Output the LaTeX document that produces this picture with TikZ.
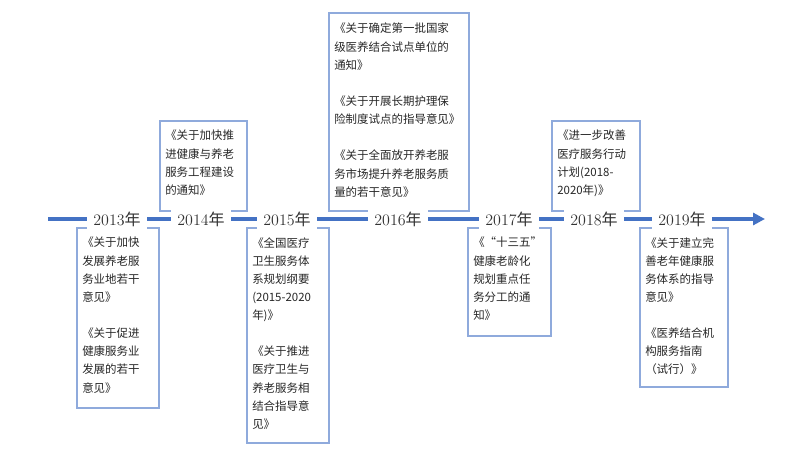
\documentclass[tikz,border=0pt]{standalone}
\usepackage{fontspec}
\newfontfamily\cjk{Noto Sans CJK SC}
\usetikzlibrary{arrows.meta}
\definecolor{lineblue}{HTML}{4472C4}
\definecolor{boxblue}{HTML}{8FAADC}
\tikzset{
  doc/.style={anchor=north west,align=left,inner sep=0pt,font=\cjk\fontsize{8.6}{13.6}\selectfont,text=black!85},
  docbox/.style={draw=boxblue,line width=0.9pt},
  year/.style={fill=white,inner xsep=4.5pt,inner ysep=2pt,font=\fontsize{12}{14}\selectfont,text=black!80}
}
\begin{document}
\begin{tikzpicture}[x=0.75pt,y=-0.75pt]
  \useasboundingbox (0,0) rectangle (795,452);
  % boxes
  \draw[docbox] (77,228) rectangle (159,408);
  \draw[docbox] (160,121) rectangle (247,211);
  \draw[docbox] (247,228) rectangle (329,443);
  \draw[docbox] (329,13) rectangle (469,211);
  \draw[docbox] (468,228) rectangle (551,336);
  \draw[docbox] (552,121) rectangle (640,211);
  \draw[docbox] (640,228) rectangle (728,387);
  % timeline
  \coordinate (start) at (48,219);
  \coordinate (end) at (765,219);
  \draw[lineblue,line width=3pt,-{Triangle[length=9pt,width=9pt]}] (start) -- (end);
  \node[year] (y13) at (117,219) {2013{\cjk 年}};
  \node[year] (y14) at (201,219) {2014{\cjk 年}};
  \node[year] (y15) at (287,219) {2015{\cjk 年}};
  \node[year] (y16) at (398,219) {2016{\cjk 年}};
  \node[year] (y17) at (509,219) {2017{\cjk 年}};
  \node[year] (y18) at (594,219) {2018{\cjk 年}};
  \node[year] (y19) at (682,219) {2019{\cjk 年}};
  % texts
  \node[doc] (d13) at (82,237) {《关于加快\\发展养老服\\务业地若干\\意见》\\[13.6pt]《关于促进\\健康服务业\\发展的若干\\意见》};
  \node[doc] (d14) at (165,130) {《关于加快推\\进健康与养老\\服务工程建设\\的通知》};
  \node[doc] (d15) at (252,237) {《全国医疗\\卫生服务体\\系规划纲要\\(2015-2020\\年)》\\[13.6pt]《关于推进\\医疗卫生与\\养老服务相\\结合指导意\\见》};
  \node[doc] (d16) at (334,23) {《关于确定第一批国家\\级医养结合试点单位的\\通知》\\[13.6pt]《关于开展长期护理保\\险制度试点的指导意见》\\[13.6pt]《关于全面放开养老服\\务市场提升养老服务质\\量的若干意见》};
  \node[doc] (d17) at (473,237) {《“十三五”\\健康老龄化\\规划重点任\\务分工的通\\知》};
  \node[doc] (d18) at (557,130) {《进一步改善\\医疗服务行动\\计划(2018-\\2020年)》};
  \node[doc] (d19) at (645,237) {《关于建立完\\善老年健康服\\务体系的指导\\意见》\\[13.6pt]《医养结合机\\构服务指南\\（试行）》};
\end{tikzpicture}
\end{document}
